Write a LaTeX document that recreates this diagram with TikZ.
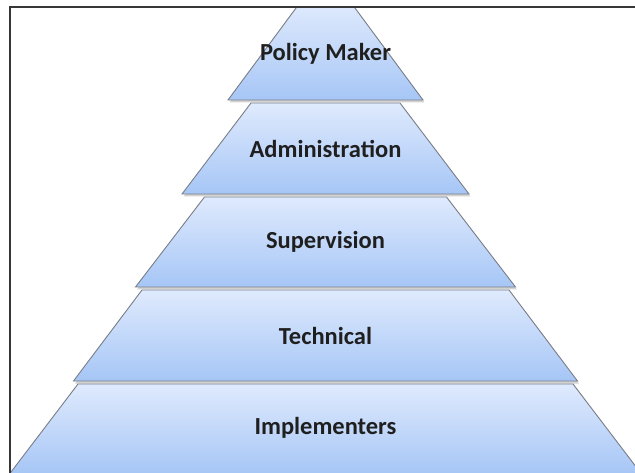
\documentclass[tikz,border=0pt]{standalone}
\usepackage{fontspec}
\setmainfont{Carlito}
\usetikzlibrary{shadows}
\definecolor{tiertop}{RGB}{223,234,253}
\definecolor{tierbot}{RGB}{166,198,246}
\definecolor{tieredge}{RGB}{120,125,135}
\definecolor{framecol}{RGB}{55,55,55}
\tikzset{
  tier/.style={draw=tieredge, line width=0.9pt, line join=miter,
    top color=tiertop, bottom color=tierbot,
    drop shadow={opacity=0.35, shadow xshift=1.5pt, shadow yshift=-2.5pt}},
  tierlabel/.style={font=\fontsize{24.5}{26}\selectfont\bfseries, text=black!88, inner sep=0pt},
  frameline/.style={draw=framecol, line width=2.8pt}
}
\newcommand{\tierpath}[4]{% ytop(px) ybot(px) tophw bothw
  \path[tier] (325.5-#3,472-#1) -- (325.5+#3,472-#1) -- (325.5+#4,472-#2) -- (325.5-#4,472-#2) -- cycle;}
\begin{document}
\begin{tikzpicture}[x=1pt,y=1pt]
\useasboundingbox (0,0) rectangle (635,472);
\fill[white] (0,0) rectangle (635,472);
\begin{scope}
\clip (0,0) rectangle (635,465);
\tierpath{384}{474}{247.5}{316}
\tierpath{290}{381}{183.5}{252}
\tierpath{197}{287}{121}{190}
\tierpath{103}{194}{74.5}{143.5}
\tierpath{4}{100}{26.5}{97.5}
\end{scope}
\node[tierlabel] (t1) at (325.5,472-54) {Policy Maker};
\node[tierlabel] (t2) at (325.5,472-148.5) {Administration};
\node[tierlabel] (t3) at (325.5,472-242) {Supervision};
\node[tierlabel] (t4) at (325.5,472-335.5) {Technical};
\node[tierlabel] (t5) at (325.5,472-428) {Implementers};
\draw[frameline, line cap=rect] (10,-2) -- (10,465) -- (640,465);
\end{tikzpicture}
\end{document}
